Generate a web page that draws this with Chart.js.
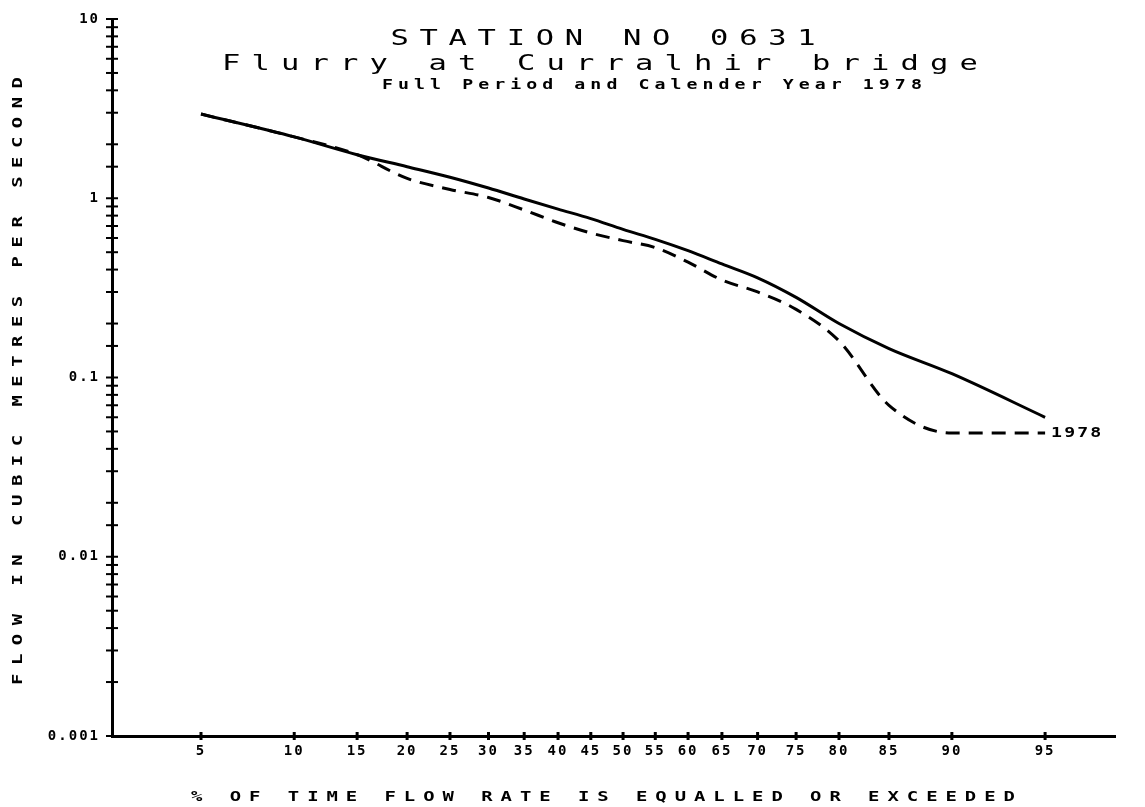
<!DOCTYPE html>
<html>
<head>
<meta charset="utf-8">
<title>Station No 0631 - flow duration</title>
<script src="https://cdn.jsdelivr.net/npm/chart.js@4.4.1/dist/chart.umd.min.js"></script>
<style>
  html, body { margin: 0; padding: 0; background: #fff; }
  #curva { display: block; }
</style>
</head>
<body>
<canvas id="curva" width="1145" height="807"></canvas>
<script>
// % of time flow is equalled or exceeded
const flowPct = [5, 10, 15, 20, 25, 30, 35, 40, 45, 50, 55, 60, 65, 70, 75, 80, 85, 90, 95];
// full period (solid) and calendar year 1978 (dashed), m3/s
const fullPeriod = [2.95, 2.20, 1.75, 1.50, 1.31, 1.14, 0.99, 0.87, 0.77, 0.67, 0.59, 0.51, 0.43, 0.36, 0.28, 0.20, 0.145, 0.105, 0.060];
const year1978 = [2.95, 2.20, 1.75, 1.29, 1.12, 1.01, 0.86, 0.73, 0.64, 0.58, 0.53, 0.44, 0.35, 0.30, 0.24, 0.16, 0.070, 0.049, 0.049];

const xTicks = [5, 10, 15, 20, 25, 30, 35, 40, 45, 50, 55, 60, 65, 70, 75, 80, 85, 90, 95];
const xTickLabels = ['5', '10', '15', '20', '25', '30', '35', '40', '45', '50', '55', '60', '65', '70', '75', '80', '85', '90', '95'];
const yMajor = [0.001, 0.01, 0.1, 1, 10];
const yTickLabels = ['0.001', '0.01', '0.1', '1', '10'];

const titleLines = ['STATION NO 0631', 'Flurry at Curralhir bridge', 'Full Period and Calender Year 1978'];
const yTitle = 'FLOW IN CUBIC METRES PER SECOND';
const xTitle = '% OF TIME FLOW RATE IS EQUALLED OR EXCEEDED';
const seriesLabel = '1978';

// inverse normal (Acklam)
function probit(p) {
  const a = [-3.969683028665376e+01, 2.209460984245205e+02, -2.759285104469687e+02, 1.383577518672690e+02, -3.066479806614716e+01, 2.506628277459239e+00];
  const b = [-5.447609879822406e+01, 1.615858368580409e+02, -1.556989798598866e+02, 6.680131188771972e+01, -1.328068155288572e+01];
  const c = [-7.784894002430293e-03, -3.223964580411365e-01, -2.400758277161838e+00, -2.549732539343734e+00, 4.374664141464968e+00, 2.938163982698783e+00];
  const d = [7.784695709041462e-03, 3.224671290700398e-01, 2.445134137142996e+00, 3.754408661907416e+00];
  const pl = 0.02425;
  if (p < pl) {
    const q = Math.sqrt(-2 * Math.log(p));
    return (((((c[0]*q+c[1])*q+c[2])*q+c[3])*q+c[4])*q+c[5]) / ((((d[0]*q+d[1])*q+d[2])*q+d[3])*q+1);
  }
  if (p <= 1 - pl) {
    const q = p - 0.5, r = q * q;
    return (((((a[0]*r+a[1])*r+a[2])*r+a[3])*r+a[4])*r+a[5])*q / (((((b[0]*r+b[1])*r+b[2])*r+b[3])*r+b[4])*r+1);
  }
  const q = Math.sqrt(-2 * Math.log(1 - p));
  return -(((((c[0]*q+c[1])*q+c[2])*q+c[3])*q+c[4])*q+c[5]) / ((((d[0]*q+d[1])*q+d[2])*q+d[3])*q+1);
}

function normCdf(z) {
  const t = 1 / (1 + 0.2316419 * Math.abs(z));
  const poly = t * (0.319381530 + t * (-0.356563782 + t * (1.781477937 + t * (-1.821255978 + t * 1.330274429))));
  const v = 1 - Math.exp(-z * z / 2) / Math.sqrt(2 * Math.PI) * poly;
  return z >= 0 ? v : 1 - v;
}

// probability axis
class ProbitScale extends Chart.Scale {
  determineDataLimits() {
    this.min = this.options.min;
    this.max = this.options.max;
  }
  buildTicks() {
    return xTicks.map(v => ({ value: v }));
  }
  getLabelForValue(value) {
    return String(value);
  }
  configure() {
    super.configure();
    this._zMin = probit(this.min / 100);
    this._zMax = probit(this.max / 100);
  }
  getPixelForValue(value) {
    return this.getPixelForDecimal((probit(value / 100) - this._zMin) / (this._zMax - this._zMin));
  }
  getPixelForTick(index) {
    return this.getPixelForValue(this.ticks[index].value);
  }
  getValueForPixel(pixel) {
    const z = this._zMin + this.getDecimalForPixel(pixel) * (this._zMax - this._zMin);
    return normCdf(z) * 100;
  }
}
ProbitScale.id = 'probit';
ProbitScale.defaults = {};
Chart.register(ProbitScale);

// plotter lettering: wide glyphs, wide spacing
function spaced(ctx, text, x, y, font, spacing, align, sx) {
  ctx.save();
  ctx.font = font;
  ctx.letterSpacing = '0px';
  const w = (ctx.measureText(text).width + spacing * (text.length - 1)) * sx;
  ctx.letterSpacing = spacing + 'px';
  ctx.textAlign = 'left';
  ctx.textBaseline = 'middle';
  ctx.translate(align === 'center' ? x - w / 2 : x, y);
  ctx.scale(sx, 1);
  ctx.fillText(text, 0, 0);
  ctx.restore();
}

const plotterPlugin = {
  id: 'plotter',
  beforeDraw(chart) {
    chart.ctx.letterSpacing = '2px';
  },
  afterDraw(chart) {
    const { ctx, scales: { x, y } } = chart;
    ctx.save();
    ctx.strokeStyle = '#000';
    ctx.fillStyle = '#000';

    // tick crosses on both sides of the axes
    ctx.lineWidth = 2;
    y.ticks.forEach(t => {
      const py = y.getPixelForValue(t.value);
      ctx.beginPath();
      ctx.moveTo(y.right - 6, py);
      ctx.lineTo(y.right + 6, py);
      ctx.stroke();
    });
    ctx.lineWidth = 3;
    x.ticks.forEach(t => {
      const px = x.getPixelForValue(t.value);
      ctx.beginPath();
      ctx.moveTo(px, x.top - 4);
      ctx.lineTo(px, x.top + 4);
      ctx.stroke();
    });

    spaced(ctx, titleLines[0], 603, 40, '21px "DejaVu Sans Mono"', 7.4, 'center', 1.45);
    spaced(ctx, titleLines[1], 600, 65, '21px "DejaVu Sans Mono"', 7.7, 'center', 1.45);
    spaced(ctx, titleLines[2], 382, 85, 'bold 14px "DejaVu Sans Mono"', 3.9, 'left', 1.3);

    spaced(ctx, xTitle, 603, 797, 'bold 14px "DejaVu Sans Mono"', 5.9, 'center', 1.35);

    ctx.save();
    ctx.translate(18, 381);
    ctx.rotate(-Math.PI / 2);
    spaced(ctx, yTitle, 0, 0, 'bold 14px "DejaVu Sans Mono"', 6.3, 'center', 1.35);
    ctx.restore();

    // label at the end of the dashed curve
    const last = flowPct.length - 1;
    const lx = x.getPixelForValue(flowPct[last]) + 6;
    const ly = y.getPixelForValue(year1978[last]);
    spaced(ctx, seriesLabel, lx, ly, 'bold 14px "DejaVu Sans Mono"', 1.6, 'left', 1.3);

    ctx.restore();
    ctx.letterSpacing = '0px';
  }
};

Chart.defaults.font.family = '"DejaVu Sans Mono"';
Chart.defaults.font.size = 14;
Chart.defaults.font.weight = 'bold';
Chart.defaults.color = '#000';

const ctx = document.getElementById('curva');
const chart = new Chart(ctx, {
  type: 'line',
  data: {
    datasets: [{
      label: 'Full period',
      data: flowPct.map((p, i) => ({ x: p, y: fullPeriod[i] })),
      borderColor: '#000',
      borderWidth: 3,
      pointRadius: 0,
      cubicInterpolationMode: 'monotone',
      fill: false
    }, {
      label: seriesLabel,
      data: flowPct.map((p, i) => ({ x: p, y: year1978[i] })),
      borderColor: '#000',
      borderWidth: 3,
      borderDash: [14, 9],
      pointRadius: 0,
      cubicInterpolationMode: 'monotone',
      fill: false
    }]
  },
  options: {
    responsive: false,
    animation: false,
    layout: { padding: { left: 0, top: 12, right: 30, bottom: 0 } },
    plugins: {
      legend: { display: false },
      title: { display: false },
      tooltip: { enabled: true }
    },
    scales: {
      x: {
        type: 'probit',
        min: 2.32,
        max: 97.24,
        grid: { display: false, drawTicks: false },
        border: { display: true, color: '#000', width: 3 },
        ticks: {
          autoSkip: false,
          maxRotation: 0,
          padding: 7,
          callback: (v, i) => xTickLabels[i]
        },
        afterFit(scale) { scale.height = 71; }
      },
      y: {
        type: 'logarithmic',
        min: 0.001,
        max: 10,
        grid: { display: false, drawTicks: false },
        border: { display: true, color: '#000', width: 3 },
        ticks: {
          autoSkip: false,
          padding: 12,
          font: { size: 14, lineHeight: 1 },
          callback: (v) => {
            const i = yMajor.findIndex(m => Math.abs(Math.log10(m) - Math.log10(v)) < 1e-6);
            return i >= 0 ? yTickLabels[i] : '';
          }
        },
        afterFit(scale) { scale.width = 112; }
      }
    }
  },
  plugins: [plotterPlugin]
});
</script>
</body>
</html>
